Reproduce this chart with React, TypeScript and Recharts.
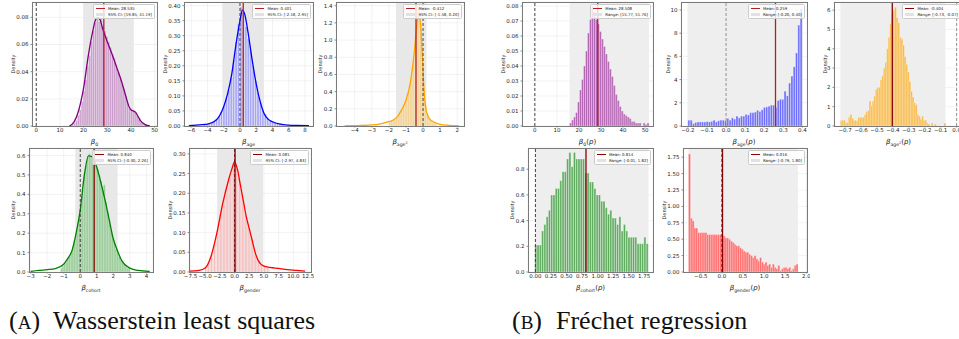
import React from "react";
import {
  Bar,
  CartesianGrid,
  ComposedChart,
  Line,
  ReferenceArea,
  ReferenceLine,
  XAxis,
  YAxis,
} from "recharts";

// ---- values ----
// (A) Wasserstein least squares
const b0WlsHist = [
  0.001, 0.002, 0.004, 0.008, 0.012, 0.018, 0.026, 0.034, 0.044, 0.052, 0.062, 0.07, 0.076, 0.079,
  0.077, 0.08, 0.073, 0.07, 0.066, 0.062, 0.058, 0.053, 0.05, 0.045, 0.04, 0.036, 0.031, 0.027,
  0.022, 0.017, 0.013, 0.011, 0.012, 0.01, 0.008, 0.005, 0.003, 0.002, 0.001, 0.001,
];
const b0WlsKde: [number, number][] = [
  [14, 0], [16, 0.003], [18, 0.012], [20, 0.028], [22, 0.052], [24, 0.071], [25, 0.078],
  [26, 0.08], [27, 0.078], [28, 0.072], [30, 0.062], [32, 0.053], [34, 0.043], [36, 0.033],
  [38, 0.021], [39, 0.015], [40, 0.012], [41, 0.011], [42, 0.01], [43, 0.007], [44, 0.004],
  [46, 0.001], [48, 0],
];
const ageWlsHist = [
  0.006, 0.007, 0.009, 0.012, 0.016, 0.024, 0.032, 0.046, 0.066, 0.092, 0.12, 0.16, 0.22, 0.28,
  0.34, 0.395, 0.38, 0.33, 0.29, 0.25, 0.2, 0.15, 0.11, 0.08, 0.055, 0.04, 0.025, 0.02, 0.016,
  0.012, 0.01, 0.008, 0.006,
];
const ageWlsKde: [number, number][] = [
  [-6.3, 0.001], [-5, 0.004], [-4, 0.006], [-3, 0.018], [-2.5, 0.035], [-2, 0.065], [-1.5, 0.11],
  [-1, 0.175], [-0.5, 0.27], [0, 0.35], [0.3, 0.385], [0.6, 0.37], [1, 0.31], [1.5, 0.22],
  [2, 0.14], [2.5, 0.08], [3, 0.04], [3.5, 0.022], [4, 0.014], [5, 0.006], [6, 0.003], [7, 0.002],
  [8.5, 0.001],
];
const age2WlsHist = [
  0.05, 0.06, 0.07, 0.08, 0.1, 0.12, 0.15, 0.19, 0.23, 0.28, 0.34, 0.41, 0.5, 0.62, 0.78, 1.05,
  1.4, 1.38, 1.15, 0.72, 0.42, 0.24, 0.14, 0.09, 0.06, 0.04, 0.03, 0.02,
];
const age2WlsKde: [number, number][] = [
  [-4.6, 0.002], [-4, 0.004], [-3, 0.012], [-2.5, 0.025], [-2, 0.05], [-1.75, 0.07], [-1.5, 0.11],
  [-1.25, 0.19], [-1, 0.3], [-0.75, 0.5], [-0.5, 0.88], [-0.35, 1.2], [-0.25, 1.3], [-0.15, 1.2],
  [-0.05, 0.85], [0.05, 0.45], [0.15, 0.22], [0.3, 0.11], [0.5, 0.06], [1, 0.02], [1.5, 0.008],
  [2.1, 0.003],
];
const cohortWlsHist = [
  0.02, 0.03, 0.04, 0.05, 0.07, 0.08, 0.1, 0.13, 0.16, 0.2, 0.25, 0.29, 0.35, 0.42, 0.5, 0.55,
  0.6, 0.61, 0.6, 0.59, 0.57, 0.55, 0.53, 0.5, 0.47, 0.44, 0.45, 0.36, 0.31, 0.27, 0.22, 0.18,
  0.15, 0.12, 0.1, 0.08, 0.06, 0.05, 0.04, 0.03, 0.02, 0.02,
];
const cohortWlsKde: [number, number][] = [
  [-3, 0.003], [-2.5, 0.008], [-2, 0.012], [-1.5, 0.018], [-1, 0.04], [-0.75, 0.07], [-0.5, 0.11],
  [-0.25, 0.2], [0, 0.32], [0.25, 0.5], [0.5, 0.598], [0.7, 0.595], [1, 0.54], [1.25, 0.46],
  [1.5, 0.37], [1.75, 0.27], [2, 0.17], [2.25, 0.11], [2.5, 0.06], [3, 0.02], [3.5, 0.008],
  [4.2, 0.003],
];
const genderWlsHist = [
  0.012, 0.016, 0.024, 0.032, 0.045, 0.058, 0.07, 0.09, 0.11, 0.13, 0.15, 0.165, 0.18, 0.19, 0.21,
  0.225, 0.24, 0.25, 0.265, 0.28, 0.3, 0.27, 0.25, 0.23, 0.21, 0.19, 0.17, 0.15, 0.13, 0.12, 0.1,
  0.09, 0.075, 0.06, 0.045, 0.035, 0.027, 0.02, 0.016, 0.014, 0.013, 0.012, 0.012, 0.011,
];
const genderWlsKde: [number, number][] = [
  [-7.8, 0.002], [-6, 0.004], [-5, 0.01], [-4, 0.04], [-3, 0.1], [-2, 0.175], [-1, 0.235],
  [-0.5, 0.26], [0, 0.28], [0.5, 0.26], [1, 0.22], [1.5, 0.18], [2, 0.14], [2.5, 0.11], [3, 0.08],
  [3.5, 0.05], [4, 0.03], [5, 0.015], [6, 0.012], [7.5, 0.009], [9, 0.006], [10.5, 0.004],
  [12, 0.002],
];

// (B) Fréchet regression
const b0FrHist = [
  0.002, 0.004, 0.006, 0.009, 0.016, 0.024, 0.031, 0.04, 0.05, 0.062, 0.071, 0.08, 0.076, 0.071,
  0.068, 0.063, 0.058, 0.053, 0.048, 0.043, 0.038, 0.033, 0.027, 0.021, 0.017, 0.013, 0.01, 0.008,
  0.007, 0.006, 0.005, 0.003, 0.003, 0.002, 0.002, 0.002, 0, 0.002, 0.001, 0.002,
];
const ageFrHist = [
  0.5, 0.5, 0.2, 0.3, 0.35, 0.35, 0.35, 0.35, 0.38, 0.35, 0.4, 0.5, 0.35, 0.45, 0.5, 0.5, 0.45,
  0.65, 0.5, 0.7, 0.6, 0.85, 0.7, 0.85, 0.85, 1.0, 0.95, 1.15, 1.15, 1.2, 1.35, 1.25, 1.4, 1.6,
  1.65, 1.7, 1.8, 1.8, 1.6, 2.2, 2.3, 2.3, 3.0, 2.6, 3.7, 4.3, 5.1, 6.3, 8.7, 10.1,
];
const age2FrHist = [
  0.3, 0.3, 0.3, 0.15, 0.2, 0.45, 0.6, 0.4, 0.3, 0.3, 0.25, 0.45, 0.45, 0.45, 0.45, 0.6, 0.75,
  0.8, 1.3, 1.05, 1.3, 1.55, 1.9, 2.0, 2.0, 2.4, 2.6, 3.0, 3.3, 4.0, 4.6, 5.3, 5.8, 6.0, 6.15,
  5.6, 5.35, 4.6, 4.5, 4.2, 3.6, 3.2, 2.8, 2.3, 1.8, 1.5, 1.2, 1.1, 0.6, 0.5, 0.35, 0.5, 0.3, 0.3,
  0.15, 0.1, 0, 0.15, 0, 0.1, 0, 0, 0, 0, 0, 0.15,
];
const cohortFrHist = [
  0.21, 0.21, 0.21, 0.32, 0.37, 0.43, 0.48, 0.6, 0.6, 0.65, 0.65, 0.71, 0.78, 0.78, 0.88, 0.93,
  0.82, 0.93, 0.88, 0.88, 0.88, 0.88, 0.77, 0.77, 0.7, 0.7, 0.65, 0.6, 0.6, 0.55, 0.55, 0.5, 0.45,
  0.48, 0.42, 0.42, 0.37, 0.43, 0.32, 0.37, 0.32, 0.27, 0.27, 0.27, 0.27, 0.22, 0.22, 0.22, 0.27,
  0.22,
];
const genderFrHist = [
  1.8, 0.82, 0.78, 0.67, 0.67, 0.6, 0.6, 0.6, 0.6, 0.6, 0.57, 0.57, 0.57, 0.57, 0.57, 0.57, 0.57,
  0.57, 0.55, 0.55, 0.52, 0.52, 0.5, 0.47, 0.45, 0.42, 0.4, 0.4, 0.37, 0.35, 0.32, 0.3, 0.3, 0.27,
  0.25, 0.22, 0.25, 0.2, 0.17, 0.22, 0.15, 0.12, 0.15, 0.1, 0.12, 0.07, 0.12, 0.07, 0.05, 0.1,
  0.02, 0.05, 0.07, 0.07, 0.05, 0.07, 0.02, 0.05, 0.1, 0.12,
];

const ticksB0 = [0, 10, 20, 30, 40, 50];
const ticksAgeWls = [-6, -4, -2, 0, 2, 4, 6, 8];
const ticksAge2Wls = [-4, -3, -2, -1, 0, 1, 2];
const ticksCohortWls = [-3, -2, -1, 0, 1, 2, 3, 4];
const ticksGenderWls = [-7.5, -5, -2.5, 0, 2.5, 5, 7.5, 10, 12.5];
const ticksAgeFr = [-0.2, -0.1, 0, 0.1, 0.2, 0.3, 0.4];
const ticksAge2Fr = [-0.7, -0.6, -0.5, -0.4, -0.3, -0.2, -0.1, 0];
const ticksCohortFr = [0, 0.25, 0.5, 0.75, 1, 1.25, 1.5, 1.75];
const ticksGenderFr = [-0.5, 0, 0.5, 1, 1.5, 2];

const yB0Wls = [0, 0.02, 0.04, 0.06, 0.08];
const yAgeWls = [0, 0.05, 0.1, 0.15, 0.2, 0.25, 0.3, 0.35, 0.4];
const yAge2Wls = [0, 0.2, 0.4, 0.6, 0.8, 1, 1.2, 1.4];
const yCohortWls = [0, 0.1, 0.2, 0.3, 0.4, 0.5, 0.6];
const yGenderWls = [0, 0.05, 0.1, 0.15, 0.2, 0.25, 0.3];
const yB0Fr = [0, 0.01, 0.02, 0.03, 0.04, 0.05, 0.06, 0.07, 0.08];
const yAgeFr = [0, 2, 4, 6, 8, 10];
const yAge2Fr = [0, 1, 2, 3, 4, 5, 6];
const yCohortFr = [0, 0.2, 0.4, 0.6, 0.8];
const yGenderFr = [0, 0.25, 0.5, 0.75, 1, 1.25, 1.5, 1.75];

const means = [28.535, 0.401, -0.412, 0.84, 0.081, 28.508, 0.259, -0.404, 0.814, 0.016];
const bands: [number, number][] = [
  [19.85, 41.19], [-2.18, 2.95], [-1.58, 0.2], [-0.3, 2.26], [-2.97, 4.83],
  [15.77, 51.76], [-0.2, 0.4], [-0.73, -0.07], [-0.01, 1.82], [-0.79, 1.8],
];

type Panel = {
  box: [number, number, number, number];
  hist: number[];
  bins: [number, number, number, number]; // first edge, last edge, empty bins left, right
  kde?: [number, number][];
  xTicks: number[];
  yTicks: number[];
  yMax: number;
  xDec: number;
  yDec: number;
  bar: string;
  line?: string;
  meanColor: string;
  zeroColor: string;
  shade: string;
  mean: number;
  band: [number, number];
  bandName: string;
  sub: string;
  sq?: boolean;
  p?: boolean;
};

const RED = "#b51f1f";
const DARK = "#8b0000";

const panels: Panel[] = [
  { box: [32, 2, 125, 124], hist: b0WlsHist, bins: [15, 47, 21, 5], kde: b0WlsKde, xTicks: ticksB0, yTicks: yB0Wls, yMax: 0.0913, xDec: 0, yDec: 2, bar: "#c99cc9", line: "#800080", meanColor: RED, zeroColor: "#333", shade: "#e8e8e8", mean: means[0], band: bands[0], bandName: "95% CI", sub: "0" },
  { box: [184, 2, 129, 124], hist: ageWlsHist, bins: [-4.5, 5.4, 8, 12], kde: ageWlsKde, xTicks: ticksAgeWls, yTicks: yAgeWls, yMax: 0.412, xDec: 0, yDec: 2, bar: "#a3a3f4", line: "#0000ff", meanColor: RED, zeroColor: "#333", shade: "#e8e8e8", mean: means[1], band: bands[1], bandName: "95% CI", sub: "age" },
  { box: [336, 2, 128, 124], hist: age2WlsHist, bins: [-2, 0.8, 31, 16], kde: age2WlsKde, xTicks: ticksAge2Wls, yTicks: yAge2Wls, yMax: 1.443, xDec: 0, yDec: 1, bar: "#f1cf8f", line: "#ffa500", meanColor: RED, zeroColor: "#333", shade: "#e8e8e8", mean: means[2], band: bands[2], bandName: "95% CI", sub: "age", sq: true },
  { box: [29, 148, 124, 124], hist: cohortWlsHist, bins: [-1.2, 3, 19, 14], kde: cohortWlsKde, xTicks: ticksCohortWls, yTicks: yCohortWls, yMax: 0.639, xDec: 0, yDec: 1, bar: "#93c993", line: "#008000", meanColor: DARK, zeroColor: "#333", shade: "#e8e8e8", mean: means[3], band: bands[3], bandName: "95% CI", sub: "cohort" },
  { box: [189, 148, 122, 124], hist: genderWlsHist, bins: [-5, 6, 11, 28], kde: genderWlsKde, xTicks: ticksGenderWls, yTicks: yGenderWls, yMax: 0.315, xDec: 1, yDec: 2, bar: "#f3a3a3", line: "#ff0000", meanColor: DARK, zeroColor: "#333", shade: "#e8e8e8", mean: means[4], band: bands[4], bandName: "95% CI", sub: "gender" },
  { box: [522, 2, 131, 124], hist: b0FrHist, bins: [15.77, 51.77, 24, 2], xTicks: ticksB0, yTicks: yB0Fr, yMax: 0.0827, xDec: 0, yDec: 2, bar: "#b366b3", meanColor: RED, zeroColor: "#333", shade: "#eeeeee", mean: means[5], band: bands[5], bandName: "Range", sub: "0", p: true },
  { box: [681, 2, 126, 124], hist: ageFrHist, bins: [-0.2, 0.4, 3, 2], xTicks: ticksAgeFr, yTicks: yAgeFr, yMax: 10.69, xDec: 1, yDec: 0, bar: "#6b6bfb", meanColor: RED, zeroColor: "#888", shade: "#eeeeee", mean: means[6], band: bands[6], bandName: "Range", sub: "age", p: true },
  { box: [834, 2, 129, 124], hist: age2FrHist, bins: [-0.73, -0.07, 4, 11], xTicks: ticksAge2Fr, yTicks: yAge2Fr, yMax: 6.42, xDec: 1, yDec: 0, bar: "#f7bb4d", meanColor: DARK, zeroColor: "#888", shade: "#eeeeee", mean: means[7], band: bands[7], bandName: "Range", sub: "age", sq: true, p: true },
  { box: [528, 148, 125, 124], hist: cohortFrHist, bins: [-0.01, 1.82, 3, 2], xTicks: ticksCohortFr, yTicks: yCohortFr, yMax: 0.965, xDec: 2, yDec: 1, bar: "#5cab5c", meanColor: DARK, zeroColor: "#333", shade: "#eeeeee", mean: means[8], band: bands[8], bandName: "Range", sub: "cohort", p: true },
  { box: [683, 148, 124, 124], hist: genderFrHist, bins: [-0.79, 1.8, 3, 5], xTicks: ticksGenderFr, yTicks: yGenderFr, yMax: 1.89, xDec: 1, yDec: 2, bar: "#ff6a6a", meanColor: DARK, zeroColor: "#333", shade: "#eeeeee", mean: means[9], band: bands[9], bandName: "Range", sub: "gender", p: true },
];

const YW = 26;
const XH = 12;
const MT = 3;
const MR = 3;
const FONT = "DejaVu Sans";

const fmt = (v: number, d: number) => v.toFixed(d).replace("-", "\u2212");

function BetaLabel({ s }: { s: Panel }) {
  return (
    <span style={{ fontFamily: FONT, fontSize: 7, color: "#222", whiteSpace: "nowrap" }}>
      <span style={{ fontStyle: "italic" }}>β</span>
      <span style={{ fontSize: 4.6, verticalAlign: "-1.6px" }}>
        {s.sub}
        {s.sq && <span style={{ fontSize: 3.4, verticalAlign: "2.4px" }}>2</span>}
      </span>
      {s.p && (
        <span>
          (<span style={{ fontStyle: "italic" }}>p</span>)
        </span>
      )}
    </span>
  );
}

function HistPanel({ s }: { s: Panel }) {
  const [left, top, w, h] = s.box;
  const [binLo, binHi, padL, padR] = s.bins;
  const bw = (binHi - binLo) / s.hist.length;
  const dens = [...new Array(padL).fill(0), ...s.hist, ...new Array(padR).fill(0)];
  const rows = dens.map((d, i) => ({ i, d }));
  const lo = binLo - padL * bw;
  const hi = binHi + padR * bw;
  const kdeRows = s.kde ? s.kde.map(([x, y]) => ({ x, y })) : undefined;
  const maxLen = Math.max(...s.yTicks.map((t) => fmt(t, s.yDec).length));
  const tick = { fontSize: 5.5, fill: "#262626", fontFamily: FONT };

  return (
    <>
      <div style={{ position: "absolute", left: left - YW, top: top - MT }}>
        <ComposedChart
          width={w + YW + MR}
          height={h + MT + XH}
          data={rows}
          margin={{ top: MT, right: MR, bottom: 0, left: 0 }}
          barCategoryGap={0}
          barGap={0}
        >
          <XAxis xAxisId="bins" dataKey="i" type="category" orientation="top" height={0} hide />
          <XAxis
            xAxisId="num"
            dataKey="x"
            type="number"
            domain={[lo, hi]}
            allowDataOverflow
            ticks={s.xTicks}
            interval={0}
            height={XH}
            axisLine={false}
            tickSize={1.5}
            tickMargin={0.5}
            tickLine={{ stroke: "#444", strokeWidth: 0.6 }}
            tick={tick}
            tickFormatter={(v: number) => fmt(v, s.xDec)}
          />
          <YAxis
            type="number"
            domain={[0, s.yMax]}
            allowDataOverflow
            ticks={s.yTicks}
            interval={0}
            width={YW}
            axisLine={false}
            tickSize={1.5}
            tickMargin={2}
            tickLine={{ stroke: "#444", strokeWidth: 0.6 }}
            tick={tick}
            tickFormatter={(v: number) => fmt(v, s.yDec)}
          />
          <CartesianGrid xAxisId="num" stroke="#000" strokeOpacity={0.09} strokeWidth={0.6} />
          <ReferenceArea
            xAxisId="num"
            x1={s.band[0]}
            x2={s.band[1]}
            fill={s.shade}
            fillOpacity={1}
            stroke="none"
            ifOverflow="hidden"
          />
          <Bar
            xAxisId="bins"
            dataKey="d"
            fill={s.bar}
            stroke="#ffffff"
            strokeWidth={0.3}
            isAnimationActive={false}
          />
          {kdeRows && (
            <Line
              xAxisId="num"
              data={kdeRows}
              dataKey="y"
              type="monotone"
              stroke={s.line}
              strokeWidth={1.3}
              dot={false}
              activeDot={false}
              isAnimationActive={false}
            />
          )}
          <ReferenceLine
            xAxisId="num"
            x={0}
            stroke={s.zeroColor}
            strokeWidth={0.9}
            strokeDasharray="3 2"
          />
          <ReferenceLine xAxisId="num" x={s.mean} stroke={s.meanColor} strokeWidth={1.3} />
        </ComposedChart>
      </div>
      <div
        style={{
          position: "absolute",
          left: left - 0.5,
          top: top - 0.5,
          width: w + 1,
          height: h + 1,
          boxSizing: "border-box",
          border: "1px solid #7a7a7a",
          pointerEvents: "none",
        }}
      />
      <div
        style={{
          position: "absolute",
          right: 959 - (left + w - 2),
          top: top + 2,
          background: "rgba(255,255,255,0.8)",
          border: "0.5px solid #cccccc",
          borderRadius: 1.5,
          padding: "1px 2px",
          fontFamily: FONT,
          fontSize: 3.9,
          lineHeight: "5.5px",
          color: "#222",
          whiteSpace: "nowrap",
        }}
      >
        <div style={{ display: "flex", alignItems: "center" }}>
          <span style={{ display: "inline-block", width: 9, height: 1.2, background: s.meanColor, marginRight: 3 }} />
          {`Mean: ${s.mean.toFixed(3)}`}
        </div>
        <div style={{ display: "flex", alignItems: "center" }}>
          <span style={{ display: "inline-block", width: 9, height: 3.5, background: "#e2e2e2", marginRight: 3 }} />
          {`${s.bandName}: [${s.band[0].toFixed(2)}, ${s.band[1].toFixed(2)}]`}
        </div>
      </div>
      <div
        style={{
          position: "absolute",
          left: left + w / 2,
          top: top + h + 13,
          transform: "translate(-50%, -50%)",
        }}
      >
        <BetaLabel s={s} />
      </div>
      <div
        style={{
          position: "absolute",
          left: left - 6 - 3.3 * maxLen,
          top: top + h / 2,
          transform: "translate(-50%, -50%) rotate(-90deg)",
          fontFamily: FONT,
          fontSize: 5,
          color: "#222",
        }}
      >
        Density
      </div>
    </>
  );
}

export default function App() {
  return (
    <div
      style={{
        position: "absolute",
        left: 0,
        top: 0,
        width: 959,
        height: 339,
        overflow: "hidden",
        background: "#fff",
      }}
    >
      {panels.map((s, k) => (
        <HistPanel key={k} s={s} />
      ))}
      <svg width={959} height={339} style={{ position: "absolute", left: 0, top: 0, pointerEvents: "none" }}>
        <g fontFamily="Liberation Serif" fontSize={26} fill="#111">
          <text x={9} y={329}>
            (<tspan fontSize={19}>A</tspan>)
          </text>
          <text x={53} y={329}>Wasserstein least squares</text>
          <text x={512} y={329}>
            (<tspan fontSize={19}>B</tspan>)
          </text>
          <text x={556} y={329}>Fréchet regression</text>
        </g>
      </svg>
    </div>
  );
}
